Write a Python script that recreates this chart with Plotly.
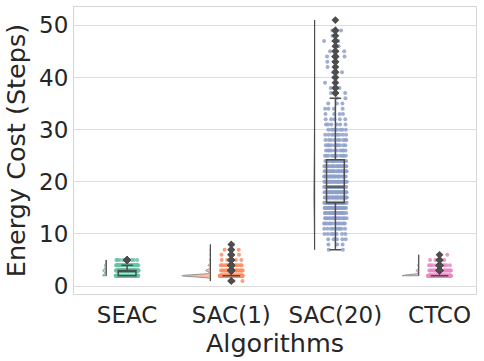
import plotly.graph_objects as go
import numpy as np

# algorithms and their energy cost (steps): value -> number of runs
algorithms = ["SEAC", "SAC(1)", "SAC(20)", "CTCO"]

seac_vals = [2, 3, 4, 5]
seac_counts = [80, 75, 35, 10]

sac1_vals = [1, 2, 3, 4, 5, 6, 7, 8]
sac1_counts = [2, 150, 25, 12, 5, 3, 2, 1]

sac20_vals = list(range(7, 52))
sac20_counts = [2, 3, 5, 7, 9, 12, 15, 18, 22,        # 7-15
                30, 30, 29, 27, 24, 20, 19, 18, 17,   # 16-24
                11, 10, 10, 9, 8, 7, 6, 5, 4, 4, 3, 2,  # 25-36
                2, 2, 1, 1, 2, 1, 2, 3, 2, 1, 2, 1, 2, 0, 1]  # 37-51

ctco_vals = [2, 3, 4, 5, 6]
ctco_counts = [160, 25, 10, 4, 1]

colors = ["#66c2a5", "#fc8d62", "#8da0cb", "#e78ac3"]
dark = "#4d4d4d"
bws = [0.3, 0.2, 1.4, 0.2]
vwidths = [0.07, 0.55, 0.015, 0.32]

series = [(seac_vals, seac_counts), (sac1_vals, sac1_counts),
          (sac20_vals, sac20_counts), (ctco_vals, ctco_counts)]

fig = go.Figure()
phi = 0.6180339887
jit = 0.11

for i, (vals, counts) in enumerate(series):
    data = np.repeat(vals, counts)
    # strip points (deterministic spread)
    xs, ys = [], []
    for v, c in zip(vals, counts):
        for k in range(c):
            off = (((k + 1) * phi + v * 0.37) % 1 - 0.5) * 2 * jit
            xs.append(i + off)
            ys.append(v)
    fig.add_trace(go.Scatter(x=xs, y=ys, mode="markers",
                             marker=dict(color=colors[i], size=4, opacity=0.85),
                             showlegend=False, hoverinfo="skip"))
    # half violin (cloud)
    fig.add_trace(go.Violin(x=[i - 0.2] * len(data), y=data, side="negative",
                            points=False, spanmode="hard", bandwidth=bws[i],
                            width=vwidths[i], scalemode="width",
                            line=dict(color=dark, width=1),
                            fillcolor=colors[i], opacity=0.6,
                            xaxis="x2", yaxis="y", showlegend=False))
    fig.add_trace(go.Scatter(x=[i - 0.2, i - 0.2], y=[data.min(), data.max()],
                             mode="lines", line=dict(color=dark, width=1.2),
                             xaxis="x2", yaxis="y", showlegend=False,
                             hoverinfo="skip"))
    # box
    fig.add_trace(go.Box(x=[i] * len(data), y=data, boxpoints="outliers",
                         jitter=0, pointpos=0, width=0.17, whiskerwidth=0.65,
                         fillcolor="rgba(0,0,0,0)",
                         line=dict(color=dark, width=1.5),
                         marker=dict(symbol="diamond", color=dark, size=6),
                         xaxis="x2", yaxis="y", showlegend=False))

xr = [-0.51, 3.35]
fig.update_layout(
    width=484, height=361,
    margin=dict(l=74, r=8, t=7, b=67),
    paper_bgcolor="white", plot_bgcolor="white",
    font=dict(family="DejaVu Sans", color="#262626", size=23),
    xaxis=dict(range=xr, tickvals=[0, 1, 2, 3], ticktext=algorithms,
               showgrid=False, zeroline=False, ticks="", automargin=False,
               showline=True, mirror=True, linecolor="#d6d6d6", linewidth=1.2,
               title=dict(text="Algorithms", font=dict(size=25.5), standoff=4)),
    xaxis2=dict(range=xr, overlaying="x", visible=False),
    yaxis=dict(range=[-1.5, 53.5], tickvals=[0, 10, 20, 30, 40, 50],
               showgrid=True, gridcolor="#dcdcdc", gridwidth=1,
               zeroline=False, ticks="", automargin=False,
               showline=True, mirror=True, linecolor="#d6d6d6", linewidth=1.2,
               title=dict(text="Energy Cost (Steps)", font=dict(size=25.5), standoff=6)),
)

fig.write_html("out.html", config={"displayModeBar": False},
               post_script="document.body.style.margin='0';document.body.style.overflow='hidden';")
